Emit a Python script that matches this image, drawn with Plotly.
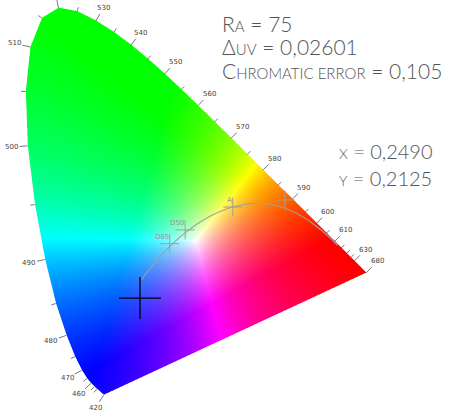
"""
CIE 1931 chromaticity diagram with a measured light source.
"""

import numpy as np
import plotly.graph_objects as go

# CIE 1931 2 deg spectral locus, 5 nm steps
wavelengths = [420, 425, 430, 435, 440, 445, 450, 455, 460, 465, 470, 475, 480,
               485, 490, 495, 500, 505, 510, 515, 520, 525, 530, 535, 540, 545,
               550, 555, 560, 565, 570, 575, 580, 585, 590, 595, 600, 605, 610,
               615, 620, 625, 630, 635, 640, 645, 650, 655, 660, 665, 670, 675, 680]
locus_x = [0.1714, 0.1703, 0.1689, 0.1669, 0.1644, 0.1611, 0.1566, 0.1510, 0.1440,
           0.1355, 0.1241, 0.1096, 0.0913, 0.0687, 0.0454, 0.0235, 0.0082, 0.0039,
           0.0139, 0.0389, 0.0743, 0.1142, 0.1547, 0.1929, 0.2296, 0.2658, 0.3016,
           0.3373, 0.3731, 0.4087, 0.4441, 0.4788, 0.5125, 0.5448, 0.5752, 0.6029,
           0.6270, 0.6482, 0.6658, 0.6801, 0.6915, 0.7006, 0.7079, 0.7140, 0.7190,
           0.7230, 0.7260, 0.7283, 0.7300, 0.7311, 0.7320, 0.7327, 0.7334]
locus_y = [0.0051, 0.0058, 0.0069, 0.0086, 0.0109, 0.0138, 0.0177, 0.0227, 0.0297,
           0.0399, 0.0578, 0.0868, 0.1327, 0.2007, 0.2950, 0.4127, 0.5384, 0.6548,
           0.7502, 0.8120, 0.8338, 0.8262, 0.8059, 0.7816, 0.7543, 0.7243, 0.6923,
           0.6589, 0.6245, 0.5896, 0.5547, 0.5202, 0.4866, 0.4544, 0.4242, 0.3965,
           0.3725, 0.3514, 0.3340, 0.3197, 0.3083, 0.2993, 0.2920, 0.2859, 0.2809,
           0.2770, 0.2740, 0.2717, 0.2700, 0.2689, 0.2680, 0.2673, 0.2666]

labelled_nm = [420, 460, 470, 480, 490, 500, 510, 520, 530, 540, 550, 560, 570,
               580, 590, 600, 610, 630, 680]
short_tick_nm = [450, 455, 465, 475, 485, 495, 505, 515, 525, 535, 545, 555, 565,
                 575, 585, 595, 605, 615, 620, 625]

# Planckian locus (black body), K
planck_t = [25000, 20000, 15000, 12000, 10000, 9000, 8000, 7000, 6500, 6000, 5500,
            5000, 4500, 4000, 3500, 3000, 2856, 2600, 2400, 2200, 2000, 1800,
            1600, 1400, 1200, 1000, 900, 800]
planck_x = [0.2525, 0.2564, 0.2637, 0.2718, 0.2807, 0.2869, 0.2952, 0.3064, 0.3135,
            0.3221, 0.3325, 0.3451, 0.3608, 0.3805, 0.4053, 0.4369, 0.4476, 0.4685,
            0.4862, 0.5056, 0.5267, 0.5496, 0.5732, 0.5985, 0.6251, 0.6528, 0.6640,
            0.6720]
planck_y = [0.2523, 0.2576, 0.2673, 0.2776, 0.2884, 0.2956, 0.3048, 0.3166, 0.3236,
            0.3318, 0.3411, 0.3516, 0.3636, 0.3768, 0.3907, 0.4041, 0.4074, 0.4123,
            0.4147, 0.4152, 0.4133, 0.4081, 0.3993, 0.3858, 0.3674, 0.3444, 0.3334,
            0.3256]

# reference illuminants
illum_names = ['D65', 'D50', 'A', '']
illum_x = [0.3127, 0.3457, 0.4476, 0.5595]
illum_y = [0.3290, 0.3585, 0.4074, 0.4225]

# chromaticity that the fill renders as pure white
fill_white_x = 0.368
fill_white_y = 0.335

# measured source
src_x = 0.2490
src_y = 0.2125
ra = 75
duv = 0.02601
chroma_err = 0.105

# layout: 467 px per chromaticity unit, origin at (23.7, 397.3) px
W, H = 471, 411
S = 467.0
OX, OY = 23.7, 397.3
x_range = [-OX / S, (W - OX) / S]
y_range = [(OY - H) / S, OY / S]

M_SRGB = np.array([[3.2406, -1.5372, -0.4986],
                   [-0.9689, 1.8758, 0.0415],
                   [0.0557, -0.2040, 1.0570]])


def fmt(v, nd):
    return f"{v:.{nd}f}".replace('.', ',')


def inside_polygon(px, py, vx, vy):
    res = np.zeros(px.shape, dtype=bool)
    n = len(vx)
    j = n - 1
    for i in range(n):
        xi, yi, xj, yj = vx[i], vy[i], vx[j], vy[j]
        if yi != yj:
            cross = (yi > py) != (yj > py)
            xint = (xj - xi) * (py - yi) / (yj - yi) + xi
            res ^= cross & (px < xint)
        j = i
    return res


def xy_to_lin(x, y):
    y = np.maximum(y, 1e-4)
    X = x / y
    Z = (1 - x - y) / y
    xyz = np.stack([X, np.ones_like(X), Z], axis=-1)
    return xyz @ M_SRGB.T


def xy_to_rgb(x, y):
    # xyY (Y=1) -> linear RGB balanced on the fill white, negatives clipped,
    # scaled so the largest channel is 1
    white = xy_to_lin(np.array(fill_white_x), np.array(fill_white_y))
    rgb = xy_to_lin(x, y) / white
    rgb = np.clip(rgb, 0, None)
    rgb = rgb / np.maximum(rgb.max(axis=-1, keepdims=True), 1e-9)
    return rgb


# colour fill of the gamut, one sample per screen pixel, 3x3 supersampled edges
step = 1.0 / S
x0, x1 = 0.0, 0.74
y0, y1 = 0.0, 0.84
nx = int(round((x1 - x0) / step))
ny = int(round((y1 - y0) / step))
cx = x0 + (np.arange(nx) + 0.5) * step
cy = y0 + (np.arange(ny) + 0.5) * step
gx, gy = np.meshgrid(cx, cy)

ss = 3
sx = x0 + (np.arange(nx * ss) + 0.5) * step / ss
sy = y0 + (np.arange(ny * ss) + 0.5) * step / ss
sgx, sgy = np.meshgrid(sx, sy)
mask = inside_polygon(sgx, sgy, np.array(locus_x), np.array(locus_y))
cover = mask.reshape(ny, ss, nx, ss).mean(axis=(1, 3))

rgb = xy_to_rgb(gx, gy) * 255
img = cover[..., None] * rgb + (1 - cover[..., None]) * 255
img = np.clip(np.round(img), 0, 255).astype(np.uint8)

fig = go.Figure()
fig.add_trace(go.Image(z=img, x0=cx[0], y0=cy[0], dx=step, dy=step, hoverinfo='skip'))

# wavelength ticks, perpendicular to the locus and pointing outward
lx = np.array(locus_x)
ly = np.array(locus_y)
tick_x, tick_y = [], []
annotations = []
for nm in labelled_nm + short_tick_nm:
    i = wavelengths.index(nm)
    a = max(i - 1, 0)
    b = min(i + 1, len(wavelengths) - 1)
    tx, ty = lx[b] - lx[a], ly[b] - ly[a]
    norm = np.hypot(tx, ty)
    nxv, nyv = ty / norm, -tx / norm
    # outward = away from the white point
    if nxv * (lx[i] - 0.33) + nyv * (ly[i] - 0.33) < 0:
        nxv, nyv = -nxv, -nyv
    length = 8 if nm in labelled_nm else 4.5
    ex = lx[i] + nxv * length / S
    ey = ly[i] + nyv * length / S
    tick_x += [lx[i], ex, None]
    tick_y += [ly[i], ey, None]
    if nm in labelled_nm:
        d = 7 * abs(nxv) + 3 * abs(nyv) + 1
        annotations.append(dict(
            x=ex + nxv * d / S, y=ey + nyv * d / S, xref='x', yref='y',
            text=str(nm), showarrow=False, xanchor='center', yanchor='middle',
            font=dict(family='DejaVu Sans', size=7, color='#444444')))

fig.add_trace(go.Scatter(x=tick_x, y=tick_y, mode='lines',
                         line=dict(color='#555555', width=0.8),
                         hoverinfo='skip', showlegend=False))

# Planckian locus
fig.add_trace(go.Scatter(x=planck_x, y=planck_y, mode='lines',
                         line=dict(color='#a0a0a0', width=1.1, shape='spline'),
                         hoverinfo='skip', showlegend=False))

# illuminant crosses
arm = 9.5 / S
cross_x, cross_y = [], []
for name, px, py in zip(illum_names, illum_x, illum_y):
    cross_x += [px - arm, px + arm, None, px, px, None]
    cross_y += [py, py, None, py - arm, py + arm, None]
    if name:
        annotations.append(dict(
            x=px + 1 / S, y=py + 1 / S, xref='x', yref='y', text=name,
            showarrow=False, xanchor='right', yanchor='bottom',
            font=dict(family='DejaVu Sans', size=7, color='#999999')))
fig.add_trace(go.Scatter(x=cross_x, y=cross_y, mode='lines',
                         line=dict(color='#a0a0a0', width=1),
                         hoverinfo='skip', showlegend=False))

# measured source cross
big = 21 / S
fig.add_trace(go.Scatter(x=[src_x - big, src_x + big, None, src_x, src_x],
                         y=[src_y, src_y, None, src_y - big, src_y + big],
                         mode='lines', line=dict(color='black', width=1.3),
                         hoverinfo='skip', showlegend=False))

# text block
big_font = dict(family='Lato', size=21, color='#555555', weight=300)
sc = "<span style='font-size:15px'>{}</span>"
text_lines = [
    ("R" + sc.format("A") + f" = {ra}", 220, 23),
    ("Δ" + sc.format("UV") + f" = {fmt(duv, 5)}", 220, 46.5),
    ("C" + sc.format("HROMATIC ERROR") + f" = {fmt(chroma_err, 3)}", 220, 70),
]
for txt, px, py in text_lines:
    annotations.append(dict(x=px / W, y=1 - py / H, xref='paper', yref='paper',
                            text=txt, showarrow=False, xanchor='left',
                            yanchor='middle', font=big_font))

xy_font = dict(family='Lato', size=20, color='#555555', weight=300)
sc2 = "<span style='font-size:14px'>{}</span>"
for txt, px, py in [(sc2.format("X") + f" = {fmt(src_x, 4)}", 337, 151),
                    (sc2.format("Y") + f" = {fmt(src_y, 4)}", 337, 178)]:
    annotations.append(dict(x=px / W, y=1 - py / H, xref='paper', yref='paper',
                            text=txt, showarrow=False, xanchor='left',
                            yanchor='middle', font=xy_font))

fig.update_layout(
    width=W, height=H,
    margin=dict(l=0, r=0, t=0, b=0),
    paper_bgcolor='white', plot_bgcolor='white',
    showlegend=False,
    annotations=annotations,
    xaxis=dict(range=x_range, visible=False, showgrid=False, zeroline=False),
    yaxis=dict(range=y_range, visible=False, showgrid=False, zeroline=False,
               autorange=False),
)

fig.write_html("out.html", config={'displayModeBar': False},
               post_script="document.body.style.margin='0px';")
